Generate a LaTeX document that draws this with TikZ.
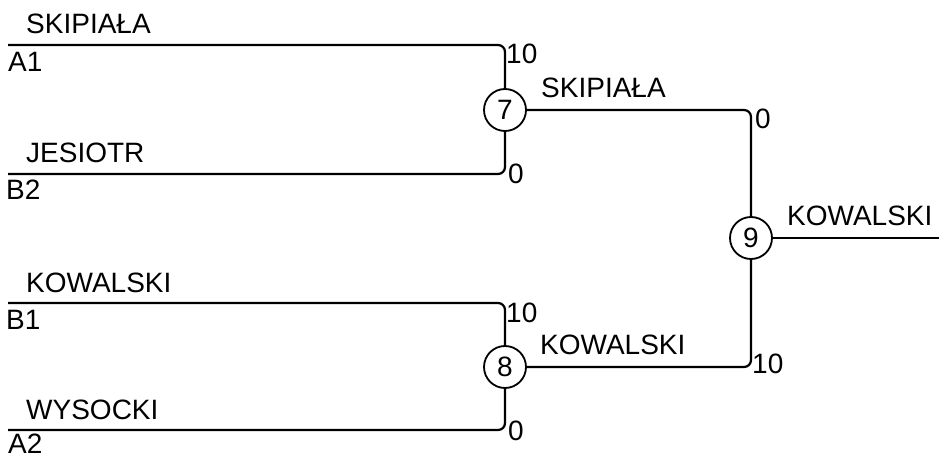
\documentclass[tikz,border=0pt]{standalone}
\usepackage{fontspec}
\setmainfont{Liberation Sans}
\begin{document}
\begin{tikzpicture}[x=1pt,y=-1pt,
  every node/.style={font=\fontsize{28}{30}\selectfont},
  lbl/.style={anchor=base west,inner sep=0pt},
  match/.style={draw,circle,line width=1.8pt,minimum size=42pt,inner sep=0pt},
  wire/.style={line width=2.2pt,rounded corners=7pt}]
\useasboundingbox (0,0) rectangle (939,457);
% match nodes
\node[match] (n7) at (505,110) {7};
\node[match] (n8) at (505,367) {8};
\node[match] (n9) at (751,238) {9};
% leaf line starts
\coordinate (a1) at (8,45);
\coordinate (b2) at (8,174);
\coordinate (b1) at (8,303);
\coordinate (a2) at (8,430);
\coordinate (out) at (939,238);
% wires
\draw[wire] (a1) -| (n7);
\draw[wire] (b2) -| (n7);
\draw[wire] (b1) -| (n8);
\draw[wire] (a2) -| (n8);
\draw[wire] (n7) -| (n9);
\draw[wire] (n8) -| (n9);
\draw[wire] (n9) -- (out);
% leaf names
\node[lbl] (t1) at (26,34) {SKIPIAŁA};
\node[lbl] (i1) at (8,72) {A1};
\node[lbl] (t2) at (26,163) {JESIOTR};
\node[lbl] (i2) at (6,200) {B2};
\node[lbl] (t3) at (26,292) {KOWALSKI};
\node[lbl] (i3) at (6,329) {B1};
\node[lbl] (t4) at (26,419) {WYSOCKI};
\node[lbl] (i4) at (8,453) {A2};
% winners
\node[lbl] (w7) at (541,98) {SKIPIAŁA};
\node[lbl] (w8) at (540,354) {KOWALSKI};
\node[lbl] (w9) at (787,225) {KOWALSKI};
% scores
\node[lbl] (s1) at (506,64) {10};
\node[lbl] (s2) at (508,183) {0};
\node[lbl] (s3) at (506,322) {10};
\node[lbl] (s4) at (508,440) {0};
\node[lbl] (s5) at (755,129) {0};
\node[lbl] (s6) at (752,373) {10};
\end{tikzpicture}
\end{document}
